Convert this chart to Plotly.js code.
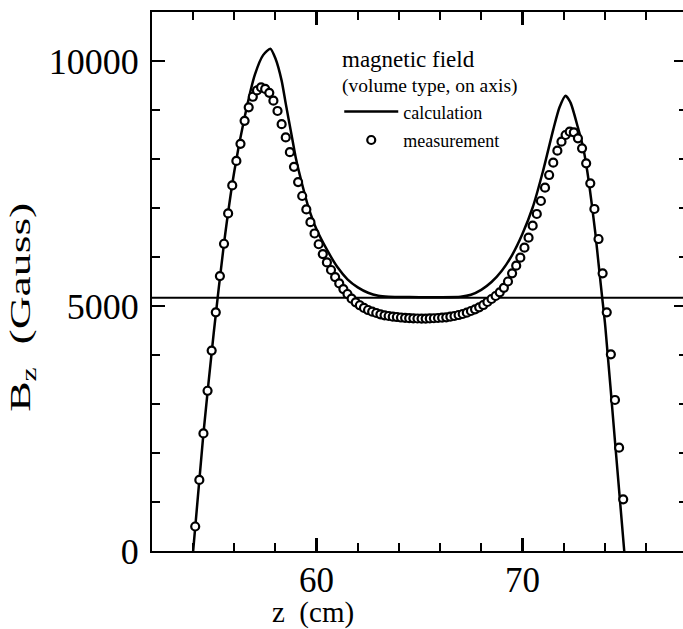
<!DOCTYPE html>
<html>
<head>
<meta charset="utf-8">
<script src="https://cdn.plot.ly/plotly-3.0.1.min.js"></script>
<style>
  html, body { margin: 0; padding: 0; overflow: hidden; background: #fff; }
  #chart { width: 690px; height: 629px; }
</style>
</head>
<body>
<div id="chart"></div>
<script>
// Axial field B_z along the magnet axis (z in cm, B in Gauss)

// calculated field profile
const zCalc = [54.0,54.5,55.0,55.5,56.0,56.5,57.0,57.4,57.75,58.0,
               58.3,58.5,58.8,59.0,59.3,59.6,60.0,60.5,61.0,61.5,
               62.0,62.5,63.0,63.5,64.0,65.0,66.0,67.0,67.5,68.0,
               68.5,69.0,69.5,70.0,70.5,71.0,71.5,71.8,72.1,72.35,
               72.7,72.95,73.15,73.35,73.55,73.7,73.87,74.03,74.5,74.95];
const bCalc = [0,2400,4450,6280,7750,8850,9720,10120,10250,10050,
               9600,9130,8450,8000,7480,7020,6560,6150,5800,5545,
               5380,5270,5210,5190,5185,5180,5180,5190,5230,5330,
               5490,5720,6040,6470,7010,7750,8600,9050,9290,9140,
               8640,8240,7760,7150,6470,5870,5200,4580,2240,0];

// measured field, one reading every 0.2 cm
const zMeas = [54.1,54.3,54.5,54.7,54.9,55.1,55.3,55.5,55.7,55.9,
               56.1,56.3,56.5,56.7,56.9,57.1,57.3,57.5,57.7,57.9,
               58.1,58.3,58.5,58.7,58.9,59.1,59.3,59.5,59.7,59.9,
               60.1,60.3,60.5,60.7,60.9,61.1,61.3,61.5,61.7,61.9,
               62.1,62.3,62.5,62.7,62.9,63.1,63.3,63.5,63.7,63.9,
               64.1,64.3,64.5,64.7,64.9,65.1,65.3,65.5,65.7,65.9,
               66.1,66.3,66.5,66.7,66.9,67.1,67.3,67.5,67.7,67.9,
               68.1,68.3,68.5,68.7,68.9,69.1,69.3,69.5,69.7,69.9,
               70.1,70.3,70.5,70.7,70.9,71.1,71.3,71.5,71.7,71.9,
               72.1,72.3,72.5,72.7,72.9,73.1,73.3,73.5,73.7,73.9,
               74.1,74.3,74.5,74.7,74.9];
const bMeas = [500,1450,2400,3270,4090,4870,5610,6270,6890,7460,
               7960,8310,8780,9055,9270,9400,9460,9430,9350,9190,
               8980,8710,8440,8140,7840,7530,7245,6970,6710,6480,
               6260,6060,5890,5735,5590,5460,5345,5245,5150,5075,
               5015,4960,4918,4885,4857,4830,4810,4796,4782,4775,
               4765,4758,4752,4748,4745,4744,4744,4746,4750,4755,
               4762,4769,4782,4796,4816,4837,4864,4898,4932,4973,
               5020,5082,5143,5204,5279,5370,5500,5667,5823,5986,
               6190,6394,6639,6878,7143,7415,7673,7925,8170,8354,
               8490,8558,8544,8422,8218,7912,7503,6980,6367,5667,
               4871,4014,3082,2108,1055];

// horizontal reference level
const levelZ = [52, 78];
const levelB = [5170, 5170];

// axis ticks
const zTicks = [60, 70];
const zTickText = ['60', '70'];
const bTicks = [0, 5000, 10000];
const bTickText = ['0', '5000', '10000'];

const serif = 'Liberation Serif, Times New Roman, serif';

const traces = [
  {
    x: levelZ, y: levelB, mode: 'lines', showlegend: false, hoverinfo: 'skip',
    line: { color: '#000', width: 2 }
  },
  {
    x: zCalc, y: bCalc, mode: 'lines', name: 'calculation', legendgroup: 'a',
    line: { color: '#000', width: 2.5, shape: 'spline', smoothing: 0.6 }
  },
  {
    x: zMeas, y: bMeas, mode: 'markers', name: 'measurement', legendgroup: 'b',
    marker: { symbol: 'circle', size: 8, color: '#fff', line: { color: '#000', width: 2.2 } }
  }
];

const layout = {
  width: 690, height: 629,
  margin: { l: 152, r: 3, t: 12, b: 78 },
  paper_bgcolor: '#fff', plot_bgcolor: '#fff',
  showlegend: true,
  xaxis: {
    range: [52, 78], tickmode: 'array', tickvals: zTicks, ticktext: zTickText,
    showline: true, linecolor: '#000', linewidth: 2, mirror: 'ticks',
    ticks: 'inside', ticklen: 13, tickwidth: 2.5, tickcolor: '#000',
    showgrid: false, zeroline: false, ticklabelstandoff: -3,
    tickfont: { family: serif, size: 35, color: '#000' },
    minor: { ticks: 'inside', dtick: 2, ticklen: 8, tickwidth: 2, tickcolor: '#000', showgrid: false }
  },
  yaxis: {
    range: [0, 11000], tickmode: 'array', tickvals: bTicks, ticktext: bTickText,
    showline: true, linecolor: '#000', linewidth: 2, mirror: 'ticks',
    ticks: 'inside', ticklen: 13, tickwidth: 2.5, tickcolor: '#000',
    showgrid: false, zeroline: false, ticklabelstandoff: 4,
    tickfont: { family: serif, size: 36, color: '#000' },
    minor: { ticks: 'inside', dtick: 1000, ticklen: 8, tickwidth: 2, tickcolor: '#000', showgrid: false }
  },
  legend: {
    x: 0.35, y: 0.849, xanchor: 'left', yanchor: 'top',
    bgcolor: 'rgba(0,0,0,0)', borderwidth: 0,
    traceorder: 'grouped', tracegroupgap: 2, itemwidth: 54,
    font: { family: serif, size: 18, color: '#000' }
  },
  annotations: [
    { xref: 'paper', yref: 'paper', x: 0.3514, y: 0.911, xanchor: 'left', yanchor: 'middle',
      text: 'magnetic field', showarrow: false, font: { family: serif, size: 23, color: '#000' } },
    { xref: 'paper', yref: 'paper', x: 0.3514, y: 0.8627, xanchor: 'left', yanchor: 'middle',
      text: '(volume type, on axis)', showarrow: false, font: { family: serif, size: 19.5, color: '#000' } },
    { xref: 'paper', yref: 'paper', x: 0.301, y: -0.115, xanchor: 'center', yanchor: 'middle',
      text: 'z\u00a0\u00a0(cm)', showarrow: false, font: { family: serif, size: 29, color: '#000' } },
    { xref: 'paper', yref: 'paper', x: -0.243, y: 0.4527, xanchor: 'center', yanchor: 'middle',
      text: 'B<sub>z</sub>\u00a0\u00a0(Gauss)', textangle: -90, showarrow: false,
      font: { family: serif, size: 30, color: '#000' } }
  ]
};

Plotly.newPlot('chart', traces, layout, { displayModeBar: false, staticPlot: true }).then(function (gd) {
  // the vertical axis label is set in a wide face: stretch it along its baseline
  const groups = gd.querySelectorAll('g.annotation');
  const g = groups[groups.length - 1];
  if (!g) return;
  const host = gd.getBoundingClientRect();
  const r = g.getBoundingClientRect();
  const cx = r.left - host.left + r.width / 2;
  const cy = r.top - host.top + r.height / 2;
  const s = 1.52;
  const prev = g.getAttribute('transform') || '';
  g.setAttribute('transform',
    'translate(' + cx + ',' + cy + ') scale(1,' + s + ') translate(' + (-cx) + ',' + (-cy) + ') ' + prev);
});
</script>
</body>
</html>
